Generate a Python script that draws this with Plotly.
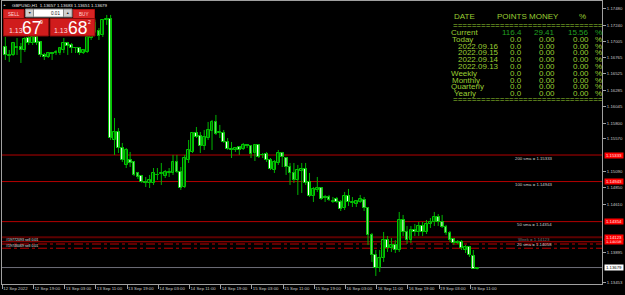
import plotly.graph_objects as go

# ---------------- data ----------------
opens = [1.16921, 1.16789, 1.16804, 1.16906, 1.16921, 1.16877, 1.17053, 1.16980, 1.17068, 1.16995,
         1.16804, 1.16774, 1.16833, 1.16833, 1.16833, 1.16877, 1.16980, 1.16951, 1.16906, 1.16906,
         1.16833, 1.16848, 1.17053, 1.17274, 1.17156, 1.17098, 1.17318, 1.17333, 1.15554, 1.15672,
         1.15436, 1.15187, 1.15260, 1.15231, 1.15069, 1.15025, 1.14937, 1.14922, 1.14922, 1.15040,
         1.15054, 1.15025, 1.15076, 1.15069, 1.15231, 1.15084, 1.14863, 1.15260, 1.15378, 1.15657,
         1.15613, 1.15466, 1.15583, 1.15686, 1.15819, 1.15657, 1.15657, 1.15525, 1.15422, 1.15407,
         1.15451, 1.15422, 1.15481, 1.15466, 1.15363, 1.15481, 1.15334, 1.15348, 1.15260, 1.15113,
         1.15216, 1.15363, 1.15289, 1.15157, 1.15069, 1.14966, 1.15098, 1.15128, 1.14937, 1.14731,
         1.14819, 1.14848, 1.14716, 1.14716, 1.14643, 1.14687, 1.14643, 1.14554, 1.14731, 1.14628,
         1.14613, 1.14643, 1.14672, 1.14554, 1.14158, 1.13864, 1.13673, 1.13819, 1.14084, 1.13966,
         1.14011, 1.13937, 1.14378, 1.14202, 1.14084, 1.14231, 1.14202, 1.14290, 1.14202, 1.14319,
         1.14349, 1.14422, 1.14349, 1.14275, 1.14187, 1.14099, 1.14047, 1.14055, 1.13937, 1.13981,
         1.13849, 1.13657]
highs = [1.17068, 1.16877, 1.16995, 1.17053, 1.16980, 1.17068, 1.17127, 1.17098, 1.17098, 1.16995,
         1.16833, 1.16848, 1.16848, 1.16877, 1.16921, 1.17053, 1.16995, 1.16980, 1.16921, 1.16921,
         1.16892, 1.17083, 1.17245, 1.17318, 1.17200, 1.17333, 1.17392, 1.17392, 1.15877, 1.15730,
         1.15510, 1.15436, 1.15378, 1.15245, 1.15084, 1.15040, 1.15010, 1.15040, 1.15142, 1.15142,
         1.15216, 1.15113, 1.15142, 1.15334, 1.15334, 1.15157, 1.15334, 1.15554, 1.15672, 1.15745,
         1.15672, 1.15701, 1.15819, 1.15848, 1.15922, 1.15775, 1.15701, 1.15583, 1.15525, 1.15451,
         1.15466, 1.15510, 1.15495, 1.15481, 1.15495, 1.15495, 1.15363, 1.15378, 1.15289, 1.15260,
         1.15407, 1.15378, 1.15304, 1.15216, 1.15216, 1.15187, 1.15216, 1.15216, 1.15069, 1.14863,
         1.15010, 1.14863, 1.14746, 1.14746, 1.14716, 1.14716, 1.14672, 1.14790, 1.14834, 1.14716,
         1.14672, 1.14746, 1.14716, 1.14569, 1.14187, 1.13937, 1.13937, 1.14202, 1.14143, 1.14113,
         1.14084, 1.14496, 1.14452, 1.14290, 1.14290, 1.14319, 1.14349, 1.14349, 1.14378, 1.14407,
         1.14496, 1.14466, 1.14452, 1.14305, 1.14216, 1.14113, 1.14084, 1.14084, 1.14011, 1.13996,
         1.13937, 1.13683]
lows = [1.16730, 1.16701, 1.16789, 1.16804, 1.16686, 1.16848, 1.16951, 1.16951, 1.16951, 1.16774,
        1.16730, 1.16759, 1.16730, 1.16804, 1.16804, 1.16833, 1.16804, 1.16833, 1.16833, 1.16804,
        1.16818, 1.16833, 1.17024, 1.17127, 1.17024, 1.17068, 1.17245, 1.15554, 1.15334, 1.15363,
        1.15231, 1.15142, 1.15157, 1.15025, 1.14981, 1.14922, 1.14863, 1.14848, 1.14893, 1.14966,
        1.14893, 1.14995, 1.15010, 1.15040, 1.15069, 1.14819, 1.14848, 1.15216, 1.15363, 1.15583,
        1.15363, 1.15407, 1.15554, 1.15407, 1.15628, 1.15583, 1.15510, 1.15407, 1.15289, 1.15378,
        1.15334, 1.15407, 1.15436, 1.15289, 1.15245, 1.15289, 1.15289, 1.15231, 1.15113, 1.15069,
        1.15187, 1.15157, 1.15040, 1.14893, 1.14922, 1.14746, 1.14775, 1.14893, 1.14716, 1.14643,
        1.14790, 1.14672, 1.14643, 1.14657, 1.14628, 1.14628, 1.14510, 1.14525, 1.14584, 1.14569,
        1.14569, 1.14628, 1.14510, 1.14011, 1.13761, 1.13555, 1.13614, 1.13761, 1.13908, 1.13908,
        1.13893, 1.13908, 1.14143, 1.14025, 1.14040, 1.14143, 1.14143, 1.14143, 1.14172, 1.14260,
        1.14290, 1.14290, 1.14260, 1.14158, 1.14055, 1.14011, 1.14025, 1.13937, 1.13893, 1.13834,
        1.13687, 1.13651]
closes = [1.16804, 1.16804, 1.16980, 1.16921, 1.16877, 1.17039, 1.16980, 1.17068, 1.16980, 1.16804,
          1.16774, 1.16833, 1.16825, 1.16848, 1.16906, 1.16980, 1.16936, 1.16906, 1.16899, 1.16833,
          1.16877, 1.17068, 1.17200, 1.17142, 1.17083, 1.17318, 1.17333, 1.15583, 1.15672, 1.15436,
          1.15260, 1.15407, 1.15216, 1.15040, 1.15010, 1.14937, 1.14929, 1.14966, 1.15069, 1.15032,
          1.15069, 1.15084, 1.15084, 1.15231, 1.15084, 1.14848, 1.15289, 1.15407, 1.15657, 1.15598,
          1.15466, 1.15598, 1.15701, 1.15819, 1.15642, 1.15672, 1.15525, 1.15422, 1.15414, 1.15436,
          1.15407, 1.15481, 1.15466, 1.15348, 1.15481, 1.15304, 1.15326, 1.15260, 1.15128, 1.15231,
          1.15363, 1.15304, 1.15157, 1.15069, 1.14966, 1.15113, 1.15128, 1.14922, 1.14731, 1.14834,
          1.14848, 1.14687, 1.14701, 1.14672, 1.14657, 1.14643, 1.14540, 1.14731, 1.14643, 1.14643,
          1.14657, 1.14687, 1.14554, 1.14158, 1.13864, 1.13673, 1.13819, 1.14084, 1.13966, 1.14011,
          1.13937, 1.14378, 1.14202, 1.14084, 1.14231, 1.14202, 1.14290, 1.14202, 1.14319, 1.14349,
          1.14422, 1.14349, 1.14275, 1.14187, 1.14084, 1.14040, 1.14055, 1.13966, 1.13981, 1.13864,
          1.13657, 1.13679]

tick_bars = [0, 8, 16, 24, 32, 40, 48, 56, 64, 72, 80, 88, 96, 104, 112, 120]
tick_labels = ["12 Sep 2022", "12 Sep 19:00", "13 Sep 03:00", "13 Sep 11:00", "13 Sep 19:00",
               "14 Sep 03:00", "14 Sep 11:00", "14 Sep 19:00", "15 Sep 03:00", "15 Sep 11:00",
               "15 Sep 19:00", "16 Sep 03:00", "16 Sep 11:00", "16 Sep 19:00", "19 Sep 03:00",
               "19 Sep 11:00"]
price_ticks = [1.17480, 1.17240, 1.17005, 1.16765, 1.16525, 1.16285, 1.16045, 1.15800,
               1.15570, 1.15090, 1.14850, 1.14610, 1.13895, 1.13453]

sma_names = ["200 sma", "100 sma", "50 sma", "20 sma"]
sma_values = [1.15333, 1.14943, 1.14354, 1.14058]
week_value = 1.14123
order_ids = ["#19772093", "#19746069"]
order_prices = [1.14025, 1.13963]
order_lots = ["0.01", "0.01"]
bid_price = 1.13679

symbol_title = "GBPUSD,H1  1.13657 1.13683 1.13651 1.13679"
sell_price = ["1.13", "67", "9"]
buy_price = ["1.13", "68", "2"]
lot_size = "0.01"

table_header = ["DATE", "POINTS", "MONEY", "%"]
table_rows = ["Current", "Today", "2022.09.16", "2022.09.15", "2022.09.14", "2022.09.13",
              "Weekly", "Monthly", "Quarterly", "Yearly"]
table_points = ["116.4", "0.0", "0.0", "0.0", "0.0", "0.0", "0.0", "0.0", "0.0", "0.0"]
table_money = ["29.41", "0.00", "0.00", "0.00", "0.00", "0.00", "0.00", "0.00", "0.00", "0.00"]
table_pct = ["15.56", "0.00", "0.00", "0.00", "0.00", "0.00", "0.00", "0.00", "0.00", "0.00"]

# ---------------- helpers (pixel -> paper) ----------------
W, H = 625, 295
ML, MR, MT, MB = 2, 23, 1, 11
PW, PH = W - ML - MR, H - MT - MB


def PX(x):
    return (x - ML) / PW


def PY(y):
    return (MT + PH - y) / PH


FONT = "Liberation Sans, Arial, sans-serif"
TFONT = "Liberation Sans, Arial, sans-serif"
AX = "#c8c8c8"
TBL = "#9acd32"
TBL_G = "#20a020"

fig = go.Figure()

# wicks
wx, wy = [], []
for i, (h, l) in enumerate(zip(highs, lows)):
    wx += [i, i, None]
    wy += [l, h, None]
fig.add_trace(go.Scatter(x=wx, y=wy, mode="lines", line=dict(color="#00b400", width=1),
                         hoverinfo="skip", showlegend=False))

# bodies
idx = list(range(len(opens)))
base = [min(o, c) for o, c in zip(opens, closes)]
hgt = [max(abs(c - o), 0.00003) for o, c in zip(opens, closes)]
cols = ["#003000" if c > o else "#ffffff" for o, c in zip(opens, closes)]
fig.add_trace(go.Bar(x=idx, base=base, y=hgt, width=0.72,
                     marker=dict(color=cols, line=dict(color="#00cc00", width=1)),
                     hoverinfo="skip", showlegend=False))

shapes = []
ann = []

# level lines
for v in sma_values:
    shapes.append(dict(type="line", xref="paper", x0=0, x1=1, yref="y", y0=v, y1=v,
                       line=dict(color="#b40000", width=1), layer="below"))
shapes.append(dict(type="line", xref="paper", x0=0, x1=1, yref="y", y0=week_value, y1=week_value,
                   line=dict(color="#5c0000", width=2), layer="below"))
for v in order_prices:
    shapes.append(dict(type="line", xref="paper", x0=0, x1=1, yref="y", y0=v, y1=v,
                       line=dict(color="#c00000", width=1, dash="dashdot"), layer="below"))
shapes.append(dict(type="line", xref="paper", x0=0, x1=1, yref="y", y0=bid_price, y1=bid_price,
                   line=dict(color="#6e6e78", width=1), layer="below"))

# level texts
for n, v in zip(sma_names, sma_values):
    ann.append(dict(xref="paper", x=PX(534), yref="y", y=v, yshift=-3, text=f"{n} = {v:.5f}",
                    showarrow=False, xanchor="center", yanchor="middle",
                    font=dict(family=FONT, size=4.3, color="#d0d0d0")))
ann.append(dict(xref="paper", x=PX(534), yref="y", y=week_value, yshift=-2,
                text=f"Week = {week_value:.5f}", showarrow=False, xanchor="center",
                yanchor="middle", font=dict(family=FONT, size=4.3, color="#7a7a7a")))
for k, (oid, v, lot) in enumerate(zip(order_ids, order_prices, order_lots)):
    ann.append(dict(xref="paper", x=PX(4), yref="y", y=v, yshift=4 if k == 0 else 2,
                    text=f"{oid} sell {lot}", showarrow=False, xanchor="left", yanchor="middle",
                    font=dict(family=FONT, size=3.6, color="#e0e0e0")))

# right price labels
for v in sma_values + [week_value]:
    ann.append(dict(xref="paper", x=PX(603.5), yref="y", y=v, text=f"{v:.5f}", showarrow=False,
                    xanchor="left", yanchor="middle", bgcolor="#ff0000", width=18, height=5,
                    borderpad=0, font=dict(family=FONT, size=4.3, color="#ffe0e0")))
ann.append(dict(xref="paper", x=PX(603.5), yref="y", y=bid_price, text=f"{bid_price:.5f}",
                showarrow=False, xanchor="left", yanchor="middle", bgcolor="#ffffff", width=18,
                height=5, borderpad=0, font=dict(family=FONT, size=4.3, color="#000000")))

# ---- one click trading panel ----
def rect(x0, y0, x1, y1, fill, line="#7a0000"):
    shapes.append(dict(type="rect", xref="paper", yref="paper", x0=PX(x0), x1=PX(x1),
                       y0=PY(y1), y1=PY(y0), fillcolor=fill, line=dict(color=line, width=1),
                       layer="above"))


def txt(x, y, s, size, color, anchor="center", family=FONT):
    ann.append(dict(xref="paper", yref="paper", x=PX(x), y=PY(y), text=s, showarrow=False,
                    xanchor=anchor, yanchor="middle",
                    font=dict(family=family, size=size, color=color)))


rect(3.5, 9.5, 24, 18.5, "#d82424", "#b01010")
rect(73, 9.5, 94.5, 18.5, "#d82424", "#b01010")
rect(25.5, 9, 33.5, 17, "#cfcfcf", "#8a8a8a")
rect(33.5, 9, 63.5, 17, "#ffffff", "#8a8a8a")
rect(63.5, 9, 72, 17, "#cfcfcf", "#8a8a8a")
rect(3.5, 18.5, 48.5, 36, "#d01c1c", "#8a0a0a")
rect(50, 18.5, 95, 36, "#d01c1c", "#8a0a0a")

txt(13.5, 14.2, "SELL", 4.6, "#ffd8d8")
txt(83.5, 14.2, "BUY", 4.6, "#ffd8d8")
txt(29.5, 13, "▼", 3.5, "#202020")
txt(67.8, 13, "▲", 3.5, "#202020")
txt(62, 13.2, lot_size, 4.6, "#202020", anchor="right")
txt(15.5, 30.8, sell_price[0], 7, "#ffdcdc")
txt(31, 28.3, sell_price[1], 17.5, "#ffffff")
txt(41.8, 22.5, sell_price[2], 5, "#ffffff")
txt(61.3, 30.8, buy_price[0], 7, "#ffdcdc")
txt(77.7, 28.3, buy_price[1], 17.5, "#ffffff")
txt(89.2, 22.5, buy_price[2], 5, "#ffffff")
txt(4.5, 5.3, "▲", 3, "#d0d0d0")
txt(9.5, 5.3, symbol_title, 4.4, "#e8e8e8", anchor="left")

# ---- statistics table ----
TS = 8
txt(452, 17, table_header[0], TS, TBL, anchor="left", family=TFONT)
txt(494.5, 17, table_header[1], TS, TBL, anchor="left", family=TFONT)
txt(526.5, 17, table_header[2], TS, TBL, anchor="left", family=TFONT)
txt(582, 17, table_header[3], TS, TBL, anchor="center", family=TFONT)
eq = "=" * 32
txt(451, 25, eq, TS, TBL, anchor="left", family=TFONT)
txt(451, 99.5, eq, TS, TBL, anchor="left", family=TFONT)
row_x = [448.5, 449.5, 455.5, 455.5, 455.5, 455.5, 448.5, 449.5, 448.5, 451.5]
for k, (lab, pt, mo, pc) in enumerate(zip(table_rows, table_points, table_money, table_pct)):
    y = 32.5 + 6.8 * k
    c = TBL_G if k == 0 else TBL
    txt(row_x[k], y, lab, TS, TBL, anchor="left", family=TFONT)
    txt(524, y, pt, TS, c, anchor="right", family=TFONT)
    txt(557, y, mo, TS, c, anchor="right", family=TFONT)
    txt(591, y, pc, TS, c, anchor="right", family=TFONT)
    txt(593, y, "%", TS, c, anchor="left", family=TFONT)

n_vis = PW / 3.9
x_start = -0.85
fig.update_layout(
    width=W, height=H, margin=dict(l=ML, r=MR, t=MT, b=MB, autoexpand=False),
    paper_bgcolor="#000000", plot_bgcolor="#000000",
    showlegend=False, barmode="overlay", bargap=0,
    shapes=shapes, annotations=ann,
    font=dict(family=FONT, color=AX),
    xaxis=dict(range=[x_start, x_start + n_vis], showgrid=False, zeroline=False,
               tickmode="array", tickvals=[b - 0.78 for b in tick_bars], ticktext=tick_labels,
               ticks="outside", ticklen=4, tickcolor="#a0a0a0", tickwidth=1, tickangle=0,
               ticklabelposition="outside right", automargin=False,
               tickfont=dict(family=FONT, size=4.3, color=AX),
               showline=True, linecolor="#a0a0a0", linewidth=1, mirror=True, fixedrange=True),
    yaxis=dict(range=[1.13437, 1.17597], side="right", showgrid=False, zeroline=False,
               tickmode="array", tickvals=price_ticks, ticktext=[f"{p:.5f}" for p in price_ticks],
               ticks="outside", ticklen=3, tickcolor="#a0a0a0", tickwidth=1, automargin=False,
               tickfont=dict(family=FONT, size=4.3, color=AX),
               showline=True, linecolor="#a0a0a0", linewidth=1, mirror=True, fixedrange=True),
)

fig.write_html("out.html")
